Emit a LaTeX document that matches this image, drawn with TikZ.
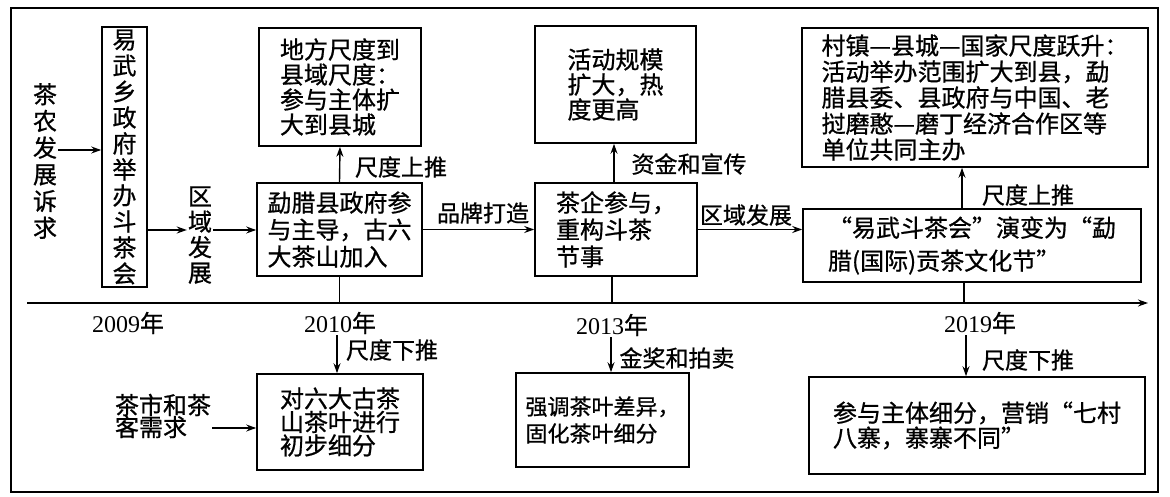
\documentclass[tikz,border=0pt]{standalone}
\usepackage{fontspec}
\newfontfamily\cjk[FakeBold=0.8]{Noto Sans CJK SC}
\newfontfamily\numfont{Liberation Serif}
\usetikzlibrary{arrows.meta}
\newcommand\fsz[2]{\fontsize{#1}{#2}\selectfont\lineskiplimit=-50pt\relax}
\begin{document}
\begin{tikzpicture}[x=1pt,y=-1pt,
  font=\cjk\fsz{23}{26},
  box/.style={draw, line width=1.6pt, inner sep=0pt, align=left},
  arr/.style={line width=1.4pt, -{Stealth[length=10pt,width=7pt]}},
  ln/.style={line width=1.5pt},
  lbl/.style={inner sep=1pt, font=\cjk\fsz{23}{26}},
  yr/.style={inner sep=1pt, font=\cjk\fsz{24}{26}}]
\useasboundingbox (0,0) rectangle (1170,497);
\fill[white] (0,0) rectangle (1170,497);
\draw[ln] (11,8) rectangle (1158,492);

% upper row
\node[box, minimum width=45pt, minimum height=260pt, align=center, font=\cjk\fsz{24}{26}] (yiwu) at (124.5,157) {易\\武\\乡\\政\\府\\举\\办\\斗\\茶\\会};
\node[inner sep=1pt, align=center, font=\cjk\fsz{24}{26.7}] (nong) at (45,161) {茶\\农\\发\\展\\诉\\求};
\node[inner sep=1pt, align=center, font=\cjk\fsz{24}{25.5}] (quyu1) at (200,235) {区\\域\\发\\展};
\node[box, minimum width=165pt, minimum height=93pt, font=\cjk\fsz{24}{27}] (mengla) at (339.5,229.5) {勐腊县政府参\\与主导，古六\\大茶山加入};
\node[box, minimum width=162pt, minimum height=118pt, font=\cjk\fsz{24}{25}] (difang) at (340,87) {地方尺度到\\县域尺度：\\参与主体扩\\大到县城};
\node[box, minimum width=161pt, minimum height=117pt, font=\cjk\fsz{24}{25}] (huodong) at (615.5,84.5) {活动规模\\扩大，热\\度更高};
\node[box, minimum width=162pt, minimum height=93pt, font=\cjk\fsz{24}{27}] (chaqi) at (616,229.5) {茶企参与，\\重构斗茶\\节事};
\node[box, minimum width=338pt, minimum height=73pt, font=\cjk\fsz{24}{33}] (yanbian) at (972,245.5) {“易武斗茶会”演变为“勐\\腊(国际)贡茶文化节”};
\node[box, minimum width=346pt, minimum height=139pt, font=\cjk\fsz{24}{26}] (cunzhen) at (975,97.5) {村镇—县城—国家尺度跃升：\\活动举办范围扩大到县，勐\\腊县委、县政府与中国、老\\挝磨憨—磨丁经济合作区等\\单位共同主办};

\draw[arr] (nong.east |- 0,150) -- (yiwu.west |- 0,150);
\draw[arr] (yiwu.east |- 0,230) -- (quyu1.west |- 0,230);
\draw[arr] (quyu1.east |- 0,230) -- (mengla.west |- 0,230);
\draw[arr] (mengla.north) -- (difang.south);
\node[lbl] (l1) at (401,167) {尺度上推};
\draw[arr] (mengla.east) -- (chaqi.west);
\node[lbl] (l2) at (483,213) {品牌打造};
\draw[arr] (chaqi.north -| 614,0) -- (huodong.south -| 614,0);
\node[lbl] (l3) at (689,164) {资金和宣传};
\draw[arr] (chaqi.east) -- (chaqi.east -| yanbian.west);
\node[lbl] (l4) at (746,215) {区域发展};
\draw[arr] (yanbian.north -| 962,0) -- (cunzhen.south -| 962,0);
\node[lbl] (l5) at (1028,195) {尺度上推};

% timeline
\coordinate (t0) at (27,303);
\coordinate (t1) at (1148,303);
\draw[arr] (t0) -- (t1);
\draw[ln] (mengla.south) -- (mengla.south |- t0);
\draw[ln] (chaqi.south -| 612,0) -- (t0 -| 612,0);
\draw[ln] (yanbian.south -| 964,0) -- (t0 -| 964,0);

\node[yr] (y09) at (128,323) {{\numfont 2009}年};
\node[yr] (y10) at (340,323) {{\numfont 2010}年};
\node[yr] (y13) at (612,325) {{\numfont 2013}年};
\node[yr] (y19) at (980,323) {{\numfont 2019}年};

% lower row
\node[box, minimum width=166pt, minimum height=96pt, font=\cjk\fsz{24}{23.5}] (duiliu) at (340,422) {对六大古茶\\山茶叶进行\\初步细分};
\node[inner sep=1pt, align=left, font=\cjk\fsz{24}{22}] (shishi) at (163,416) {茶市和茶\\客需求};
\node[box, minimum width=173pt, minimum height=94pt, font=\cjk\fsz{22}{27}] (qiang) at (602.5,420) {强调茶叶差异，\\固化茶叶细分};
\node[box, minimum width=336pt, minimum height=97pt, font=\cjk\fsz{24}{25}] (canyu) at (977,425.5) {参与主体细分，营销“七村\\八寨，寨寨不同”};

\draw[arr] (y10.south -| 337,0) -- (duiliu.north -| 337,0);
\node[lbl] (l6) at (392,350) {尺度下推};
\draw[arr] (shishi.east |- 0,428) -- (duiliu.west |- 0,428);
\draw[arr] (y13.south -| 611,0) -- (qiang.north -| 611,0);
\node[lbl] (l7) at (677,358) {金奖和拍卖};
\draw[arr] (y19.south -| 966,0) -- (canyu.north -| 966,0);
\node[lbl] (l8) at (1028,360) {尺度下推};
\end{tikzpicture}
\end{document}
